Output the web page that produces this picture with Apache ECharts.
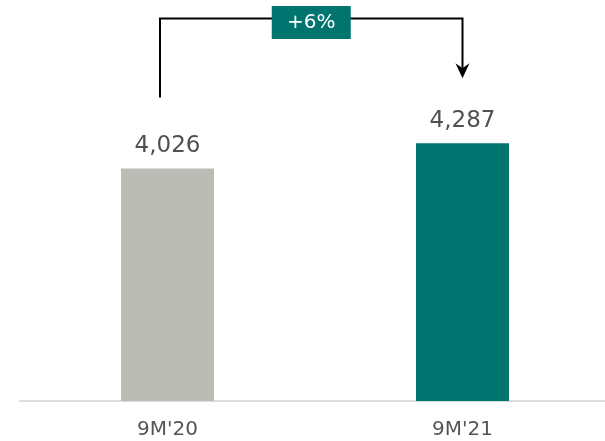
<!DOCTYPE html>
<html lang="en">
<head>
	<meta charset="UTF-8">
	<title>9M bars</title>
	<script src="https://cdn.jsdelivr.net/npm/echarts@6/dist/echarts.min.js" type="text/javascript"></script>
	<style>
		html,body{margin:0;padding:0;background:#fff;}
		#main{width:605px;height:441px;}
	</style>
</head>
<body>
<div id="main"></div>
<script>
	var categories = ["9M'20", "9M'21"];
	var values = [4026, 4287];
	var barColors = ['#bcbcb7', '#00746e'];
	var changeLabel = '+6%';

	var myChart = echarts.init(document.getElementById('main'));
	var option = {
		backgroundColor:'#fff',
		animation:false,
		grid: {
			left: 20,
			top: 75,
			width: 590,
			bottom: 40,
			outerBoundsMode: 'none'
		},
		xAxis: {
			type: 'category',
			data: categories,
			axisLine: {lineStyle: {color: '#dcdcdc', width: 2}},
			axisTick: {show: false},
			axisLabel: {
				color: '#555',
				fontFamily: 'DejaVu Sans',
				fontSize: 20,
				margin: 19
			}
		},
		yAxis: {
			type: 'value',
			min: 1600,
			max: 5000,
			show: false
		},
		series: [
			{
				type: 'bar',
				barWidth: 93,
				data: values.map(function(v, i){
					return {value: v, itemStyle: {color: barColors[i]}};
				}),
				label: {
					show: true,
					position: 'top',
					distance: 11,
					color: '#505050',
					fontFamily: 'DejaVu Sans',
					fontSize: 23,
					formatter: function(p){
						return p.value.toLocaleString('en-US');
					}
				}
			}
		]
	};
	myChart.setOption(option);

	//bracket with arrow and change label
	function drawBracket(){
		var p1 = myChart.convertToPixel({seriesIndex: 0}, [0, values[0]]);
		var p2 = myChart.convertToPixel({seriesIndex: 0}, [1, values[1]]);
		var xl = p1[0] - 7.5;
		var xr = p2[0];
		var yTop = 18.5;
		var yLeft = p1[1] - 71;
		var yTip = p2[1] - 65;
		var xm = (xl + xr) / 2;
		var line = {stroke: '#000', lineWidth: 2, fill: null};
		myChart.setOption({
			graphic: [
				{type: 'polyline', shape: {points: [[xl, yLeft], [xl, yTop], [xr, yTop], [xr, yTip - 6]]}, style: line},
				{type: 'polygon', shape: {points: [[xr, yTip], [xr - 7, yTip - 15], [xr, yTip - 10], [xr + 7, yTip - 15]]}, style: {fill: '#000'}},
				{type: 'rect', shape: {x: xm - 39.5, y: 6, width: 79, height: 33}, style: {fill: '#00746e'}},
				{type: 'text', x: xm, y: 22.5, style: {text: changeLabel, fill: '#fff', font: '20px "DejaVu Sans"', align: 'center', verticalAlign: 'middle'}}
			]
		});
	}
	drawBracket();
</script>
</body>
</html>
